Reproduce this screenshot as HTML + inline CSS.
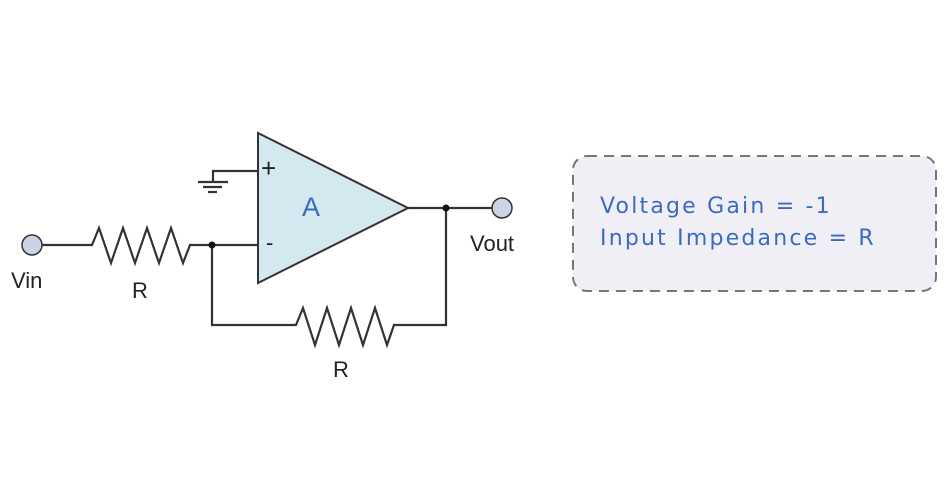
<!DOCTYPE html>
<html><head><style>body{margin:0;background:#fff}svg{display:block}</style></head>
<body>
<svg width="950" height="500" xmlns="http://www.w3.org/2000/svg">
<g stroke="#333" stroke-width="2.2" fill="none">
<polyline points="42,245 92,245 99,228 111,263 123,228 135,263 147,228 159,263 171,228 183,263 190,245 258,245"/>
<polyline points="212,245 212,325 296,325 303,308 315,345 327,308 339,345 351,308 363,345 375,308 387,345 394,325 446,325 446,208"/>
<line x1="408" y1="208" x2="492" y2="208"/>
<polyline points="258,171 213,171 213,182"/>
<line x1="198" y1="182" x2="228" y2="182"/>
<line x1="203" y1="187" x2="222" y2="187"/>
<line x1="208" y1="192" x2="217" y2="192"/>
</g>
<polygon points="258,133 258,283 408,208" fill="#d4e8f0" stroke="#333" stroke-width="2"/>
<circle cx="32" cy="245" r="10" fill="#cad4e4" stroke="#333" stroke-width="1.5"/>
<circle cx="502" cy="208" r="10" fill="#cad4e4" stroke="#333" stroke-width="1.5"/>
<circle cx="212" cy="245" r="3.5" fill="#111"/>
<circle cx="446" cy="208" r="3.5" fill="#111"/>
<g font-family="Liberation Sans, sans-serif" fill="#222">
<text x="261" y="177" font-size="26">+</text>
<text x="266" y="250" font-size="22">-</text>
<text x="302" y="216" font-size="27" fill="#3b6bc0">A</text>
<text x="11" y="288" font-size="22">Vin</text>
<text x="132" y="298" font-size="22">R</text>
<text x="333" y="377" font-size="22">R</text>
<text x="470" y="251" font-size="22">Vout</text>
</g>
<rect x="573" y="156" width="363" height="135" rx="14" fill="#f1eff6" stroke="#777" stroke-width="2" stroke-dasharray="10,7"/>
<g font-family="DejaVu Sans, sans-serif" font-size="22" fill="#3b6bc0" letter-spacing="2.2">
<text x="600" y="213">Voltage Gain = -1</text>
<text x="600" y="245">Input Impedance = R</text>
</g>
</svg>
</body></html>
